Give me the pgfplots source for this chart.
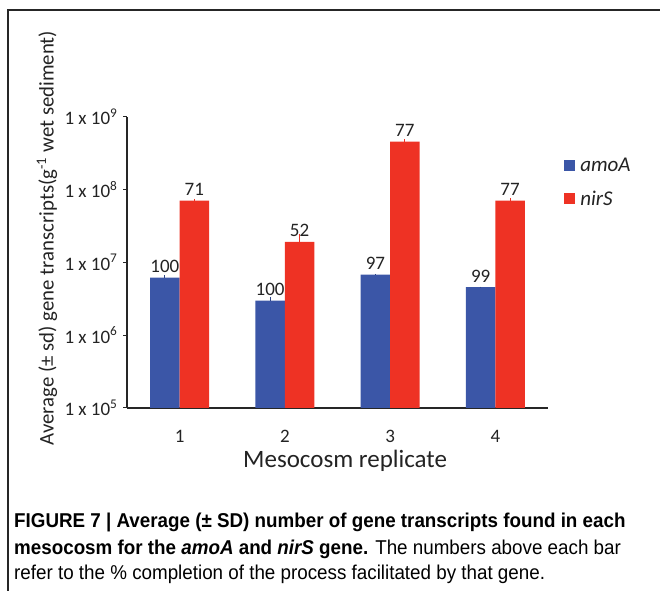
\documentclass[border=0pt]{standalone}
\usepackage{fontspec}
\setmainfont{Carlito}
\newfontfamily\capfont[FakeStretch=0.94]{Liberation Sans}
\usepackage{pgfplots}
\usepackage{pgfplotstable}
\pgfplotsset{compat=1.18}
\definecolor{barblue}{RGB}{59,86,167}
\definecolor{barred}{RGB}{238,50,36}
\definecolor{txt}{RGB}{35,35,35}
\pgfplotstableread{
x blue eb red er lb lr
1 6.2e6 5e5 7.1e7 4e6 100 71
2 3.0e6 3.3e5 1.92e7 5.6e6 100 52
3 6.8e6 2e5 4.57e8 3.6e7 97 77
4 4.57e6 1e5 7.1e7 5.6e6 99 77
}\datatab
\begin{document}
\begin{tikzpicture}
\path[use as bounding box] (0,0) rectangle (660bp,591bp);
\draw[line width=1.2bp, black!85] (8bp,-2bp) -- (8bp,581bp) -- (662bp,581bp);
\begin{axis}[
  at={(127bp,183bp)}, anchor=south west,
  scale only axis, width=421bp, height=291bp,
  ymode=log, ymin=1e5, ymax=1e9,
  xmin=0.5, xmax=4.5,
  axis lines=left, axis line style={-, line width=1.6bp, black!85},
  xtick={1,2,3,4}, xticklabels={1,2,3,4},
  x tick style={draw=none},
  extra x ticks={1.5,2.5,3.5}, extra x tick labels={},
  extra x tick style={tick style={draw=black!85, line width=1bp}, major tick length=4bp, tick align=outside},
  ytick={1e5,1e6,1e7,1e8,1e9},
  yticklabels={1 x 10\textsuperscript{5},1 x 10\textsuperscript{6},1 x 10\textsuperscript{7},1 x 10\textsuperscript{8},1 x 10\textsuperscript{9}},
  yminorticks=false,
  y tick style={draw=black!85, line width=1bp}, major tick length=4bp, tick align=outside,
  tick label style={font=\fontsize{19bp}{22bp}\selectfont, text=txt},
  xticklabel style={yshift=-15bp},
  yticklabel style={xshift=-2bp},
  xlabel={Mesocosm replicate},
  xlabel style={at={(axis description cs:0.518,-0.206)}, anchor=base, font=\fontsize{25bp}{28bp}\selectfont, text=txt},
  ylabel={Average (\textpm\ sd) gene transcripts(g\textsuperscript{-1} wet sediment)},
  ylabel style={at={(axis description cs:-0.19,0.584)}, anchor=center, font=\fontsize{20.8bp}{24bp}\selectfont, text=txt},
  clip=true,
  legend style={at={(axis description cs:1.037,0.879)}, anchor=north west, draw=none, fill=none,
    font=\fontsize{21bp}{24bp}\selectfont\itshape, text=txt, inner sep=0pt, row sep=7bp,
    nodes={inner sep=5.5bp}},
  legend cell align=left,
  legend image code/.code={\fill[#1] (0bp,-5.5bp) rectangle (11bp,5.5bp);},
  nodes near coords,
  every node near coord/.append style={anchor=south, inner sep=0pt, yshift=5bp, font=\fontsize{19bp}{22bp}\selectfont, text=txt},
]
\addplot[ybar, bar width=0.28, bar shift=0pt, fill=barblue, draw=none,
  point meta=explicit symbolic,
  error bars/.cd, y dir=plus, y explicit, error mark=none,
  error bar style={color=barblue!80!black, line width=1bp}]
  table[x expr=\thisrow{x}-0.14, y=blue, y error=eb, meta=lb] {\datatab};
\addlegendentry{amoA}
\addplot[ybar, bar width=0.28, bar shift=0pt, fill=barred, draw=none,
  point meta=explicit symbolic,
  error bars/.cd, y dir=plus, y explicit, error mark=none,
  error bar style={color=barred, line width=1bp}]
  table[x expr=\thisrow{x}+0.14, y=red, y error=er, meta=lr] {\datatab};
\addlegendentry{nirS}
\end{axis}
\node[anchor=base west, inner sep=0pt, font=\capfont\fontsize{20bp}{23bp}\selectfont] at (14bp,63bp)
  {\bfseries FIGURE 7 | Average (\textpm\ SD) number of gene transcripts found in each};
\node[anchor=base west, inner sep=0pt, font=\capfont\fontsize{20bp}{23bp}\selectfont] at (14bp,37bp)
  {{\bfseries mesocosm for the \textit{amoA} and \textit{nirS} gene.} The numbers above each bar};
\node[anchor=base west, inner sep=0pt, font=\capfont\fontsize{20bp}{23bp}\selectfont] at (14bp,12bp)
  {refer to the \% completion of the process facilitated by that gene.};
\end{tikzpicture}
\end{document}
